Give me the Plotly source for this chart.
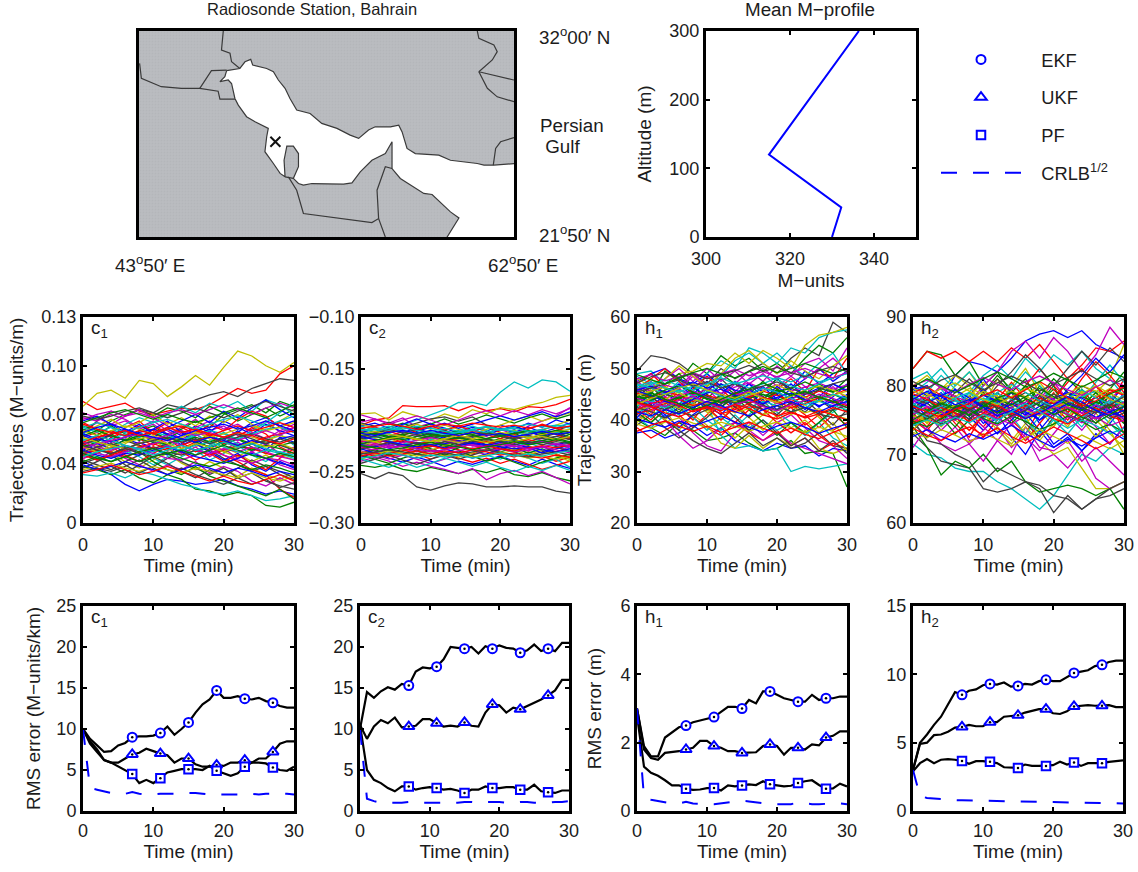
import plotly.graph_objects as go

W, H = 1138, 872
FONT = "Liberation Sans"
INK = "#1c1c1c"

# ---------- map (degrees lon / lat) ----------
MAP_LON_RANGE = [43.83, 62.83]
MAP_LAT_RANGE = [21.83, 32.0]
GULF_LON = [48.27,48.94,49.20,49.49,49.59,50.30,50.64,50.89,51.23,51.48,51.82,52.50,53.09,53.86,54.53,54.96,55.46,55.80,56.57,56.99,57.16,57.41,57.83,59.02,59.61,60.97,61.31,61.81,62.90,62.90,59.36,59.87,60.04,59.61,59.19,58.68,58.26,57.58,57.07,56.65,56.65,56.65,56.31,55.63,55.04,54.62,54.19,53.35,52.59,52.16,51.91,51.65,51.91,51.91,51.65,51.32,51.18,51.23,50.98,50.64,50.21,50.30,50.38,49.71,49.28,48.86,48.69,48.52,48.35,47.93,48.18,48.27]
GULF_LAT = [30.04,30.15,30.48,30.60,30.32,30.15,29.99,29.58,29.17,28.67,28.10,27.93,27.44,27.19,26.86,26.70,27.11,27.27,27.27,27.35,27.02,26.20,25.95,25.87,25.62,25.46,25.38,25.38,25.46,21.70,21.70,22.49,22.77,23.07,23.48,23.93,23.98,24.39,24.72,25.21,25.79,26.53,25.95,25.62,25.05,24.50,24.44,24.47,24.47,24.39,24.47,24.72,25.30,25.95,26.32,26.32,25.62,24.80,24.97,25.46,26.04,26.78,27.19,27.52,27.77,28.34,28.67,29.41,29.58,29.50,29.74,30.04]
BORDERS = [
    ([48.10,48.01,48.44,48.52,48.94], [32.0,31.06,30.90,30.48,30.15]),
    ([43.86,43.95,44.96,45.98,46.91,47.84,47.93,48.69], [30.40,29.66,29.25,29.17,29.17,29.03,28.64,28.64]),
    ([46.91,47.17,47.50,48.27], [29.17,29.58,30.04,30.07]),
    ([60.97,61.05,61.81,61.98,61.73,61.05,62.83], [32.0,31.64,31.31,30.98,30.57,29.99,29.58]),
    ([61.05,61.48,61.98,62.83], [29.99,29.17,28.75,28.51]),
    ([62.83,62.15,61.90,61.78], [26.74,26.53,26.20,25.38]),
    ([51.40,51.82,52.16,54.19,55.63,55.97,56.31], [24.80,24.14,22.99,22.74,22.54,22.74,21.83]),
    ([55.97,55.89,56.31,56.65], [22.74,24.14,25.30,25.21]),
    ([51.23,51.65], [24.80,24.72]),
]
STATION_LON = [50.74]
STATION_LAT = [26.53]

# ---------- mean M-profile ----------
PROFILE_M = [330.0, 332.2, 315.0, 336.4]
PROFILE_ALT = [0, 43, 120, 300]

# ---------- trajectories, one point every 2 min ----------
T_TRAJ = [0,2,4,6,8,10,12,14,16,18,20,22,24,26,28,30]
LINE_COLORS = ["#0000ff","#008000","#ff0000","#00bfbf","#bf00bf","#bfbf00","#404040"]

C1_MILLI = [
[41,37,33,27,23,27,30,29,27,28,30,26,24,21,23,21],
[38,36,33,36,31,28,33,30,24,23,20,22,20,14,13,16],
[78,73,75,77,72,70,72,74,73,76,81,86,83,85,95,100],
[33,32,34,31,35,33,30,27,25,22,21,23,20,17,18,20],
[60,65,63,66,61,64,58,62,67,60,63,57,61,66,59,62],
[75,83,85,80,91,89,81,87,94,88,99,109,106,100,96,102],
[58,66,72,69,73,71,76,74,79,82,84,81,86,89,92,91],
[52,48,56,50,46,53,58,51,55,49,54,60,52,48,56,53],
[63,60,66,70,73,69,74,72,68,75,71,66,70,74,69,73],
[56,59,53,62,66,58,55,49,53,58,52,56,62,58,50,46],
[47,44,41,46,50,43,39,44,48,42,46,51,45,41,47,44],
[68,66,70,67,62,66,60,55,58,52,48,53,47,43,39,36],
[44,49,46,41,37,42,46,40,36,41,37,32,37,33,30,35],
[37,41,45,39,34,38,43,47,52,48,43,39,35,38,33,30],
[54,57,51,47,53,49,45,52,57,61,55,59,65,68,63,66],
[49,53,58,54,60,63,57,61,66,62,70,73,76,71,78,75],
[65,61,56,60,55,51,56,53,47,50,45,41,36,33,24,19],
[58,62,59,64,68,65,70,75,71,77,74,78,72,79,76,70],
[46,42,47,43,39,35,39,36,41,34,38,35,29,26,31,27],
[55,51,47,52,57,54,49,45,50,54,47,44,49,53,45,42],
[42,39,36,41,45,50,46,41,37,33,37,31,27,30,25,28],
[48,52,49,55,52,56,61,57,63,59,66,62,58,64,60,57],
[61,57,63,58,54,59,55,60,54,57,51,55,50,46,52,48],
[51,55,60,57,63,60,65,62,58,64,60,67,72,69,62,59],
[44,47,43,48,44,39,44,49,45,51,56,52,48,54,58,51],
[71,68,64,69,73,68,63,58,62,66,61,64,59,55,60,64],
[50,46,52,56,50,47,52,56,60,55,50,46,41,45,40,38],
[40,43,38,34,39,44,40,35,31,36,32,37,42,38,35,31],
[57,54,58,61,56,61,66,59,52,47,42,46,39,35,41,37],
[53,50,45,50,47,41,36,33,38,32,29,26,23,20,24,18],
[43,46,50,45,41,46,51,47,42,46,41,45,40,36,43,49],
[62,59,62,56,59,55,50,54,58,53,59,54,60,65,71,78],
[45,50,54,48,53,47,51,46,50,44,49,43,47,52,46,50],
[59,63,67,62,65,70,64,68,63,69,65,70,64,60,66,71],
[35,37,35,38,42,37,33,37,33,30,27,31,34,29,26,24],
[66,69,64,59,64,58,62,66,70,65,72,68,74,79,73,68],
[50,53,51,54,55,53,52,54,56,53,56,55,52,54,51,53],
[46,48,47,44,47,50,48,51,48,45,48,51,49,46,44,47],
[55,52,55,58,56,59,57,54,57,60,58,55,58,61,62,59],
[43,46,44,47,49,46,43,42,45,48,45,42,40,43,42,39],
[60,57,60,63,61,58,61,64,61,58,56,59,56,54,57,55],
[52,54,57,54,51,49,52,55,53,50,53,56,58,55,53,56],
[48,45,43,46,45,48,50,47,44,42,40,43,46,43,40,38],
[57,60,57,54,57,55,52,55,53,50,53,51,48,51,49,46],
[45,42,45,48,50,52,49,51,54,56,53,50,53,56,58,60],
[62,65,62,59,62,65,67,64,61,64,67,69,66,63,66,69],
[53,50,48,51,49,52,54,51,48,46,49,47,50,47,44,42],
[50,47,50,53,55,57,54,56,59,56,58,61,63,60,62,65],
[47,50,52,49,46,44,47,45,48,50,47,49,52,54,51,48],
[58,55,53,56,59,61,58,55,53,56,54,51,54,52,55,57],
[41,44,41,44,41,44,46,43,40,38,41,39,36,39,37,34],
[64,61,59,57,60,58,61,63,60,57,60,63,60,62,65,62],
[54,57,54,51,49,47,50,48,51,53,50,47,45,48,46,43],
[49,52,54,56,58,55,57,60,57,59,56,54,57,60,57,62],
[56,53,51,49,52,55,52,49,52,50,47,50,53,50,52,49],
[51,48,46,49,52,54,56,53,55,52,55,58,55,52,55,52],
[59,62,64,61,58,56,54,57,60,62,64,61,63,66,63,60],
[46,43,41,44,47,49,46,48,45,48,51,48,45,43,46,44],
[53,56,58,60,57,59,62,59,61,58,56,59,57,54,52,55],
[44,47,49,51,48,45,48,51,48,50,53,50,52,49,47,45],
[67,70,72,69,71,68,71,73,70,73,76,73,70,74,77,74],
[36,38,40,37,35,38,36,34,37,35,33,31,34,31,29,32],
[69,67,69,72,74,71,68,71,74,71,68,72,75,78,75,72],
[39,36,38,41,38,36,33,36,39,37,34,37,35,32,35,33],
[65,68,71,73,70,67,70,67,65,68,71,74,71,68,72,76],
[34,36,39,36,33,35,38,35,32,29,32,29,27,30,33,29],
]
C2_MILLI = [
[-224,-220,-226,-221,-216,-212,-217,-212,-207,-211,-205,-209,-203,-207,-200,-204],
[-244,-246,-243,-248,-250,-246,-249,-252,-248,-251,-247,-253,-255,-251,-256,-259],
[-205,-200,-198,-186,-187,-187,-186,-191,-186,-191,-189,-192,-187,-188,-185,-180],
[-212,-209,-213,-205,-200,-195,-190,-183,-183,-186,-173,-163,-169,-161,-163,-172],
[-195,-199,-203,-198,-207,-203,-210,-205,-212,-216,-209,-214,-206,-201,-196,-188],
[-194,-193,-200,-192,-196,-200,-194,-198,-190,-194,-188,-190,-186,-183,-178,-176],
[-252,-257,-251,-254,-265,-268,-264,-261,-262,-265,-265,-264,-265,-265,-269,-271],
[-236,-232,-237,-241,-236,-240,-245,-240,-243,-239,-235,-240,-244,-238,-243,-247],
[-208,-212,-207,-203,-208,-204,-199,-204,-200,-195,-199,-203,-198,-194,-199,-195],
[-218,-222,-217,-222,-226,-230,-225,-229,-233,-228,-232,-236,-231,-235,-240,-236],
[-229,-225,-230,-234,-229,-233,-228,-224,-229,-234,-238,-233,-237,-242,-238,-246],
[-240,-236,-240,-245,-241,-245,-248,-252,-247,-258,-252,-249,-254,-250,-256,-262],
[-214,-218,-222,-217,-213,-218,-223,-218,-214,-219,-214,-210,-215,-210,-205,-200],
[-203,-206,-202,-207,-203,-199,-197,-201,-197,-205,-210,-206,-211,-215,-210,-206],
[-210,-214,-209,-204,-199,-204,-208,-213,-209,-214,-210,-206,-211,-216,-212,-217],
[-226,-230,-234,-230,-225,-221,-226,-222,-218,-222,-218,-213,-218,-214,-219,-214],
[-232,-228,-224,-229,-233,-238,-233,-237,-241,-237,-242,-238,-243,-248,-244,-240],
[-220,-216,-220,-224,-219,-215,-211,-215,-220,-225,-221,-226,-222,-227,-223,-228],
[-216,-212,-216,-211,-215,-220,-224,-220,-225,-220,-224,-219,-215,-220,-225,-230],
[-238,-234,-229,-234,-230,-235,-231,-236,-232,-228,-233,-229,-225,-230,-235,-240],
[-222,-226,-221,-226,-230,-226,-221,-217,-222,-218,-214,-219,-224,-220,-216,-212],
[-206,-203,-208,-212,-208,-213,-218,-222,-217,-213,-208,-212,-207,-212,-208,-203],
[-234,-238,-242,-237,-233,-229,-234,-230,-235,-240,-236,-241,-246,-241,-237,-233],
[-227,-223,-219,-215,-220,-216,-212,-216,-211,-207,-212,-217,-213,-209,-214,-219],
[-213,-217,-213,-218,-223,-219,-215,-210,-206,-210,-215,-211,-216,-221,-226,-222],
[-230,-234,-238,-234,-238,-242,-238,-233,-229,-234,-229,-225,-230,-226,-231,-226],
[-204,-208,-212,-208,-204,-209,-205,-209,-214,-209,-205,-200,-196,-201,-197,-193],
[-242,-238,-234,-239,-243,-238,-234,-238,-234,-230,-226,-231,-235,-231,-226,-231],
[-219,-215,-211,-207,-211,-207,-203,-208,-204,-200,-196,-200,-196,-192,-197,-192],
[-233,-229,-233,-228,-224,-228,-232,-227,-223,-227,-231,-227,-232,-228,-233,-238],
[-211,-207,-211,-215,-210,-206,-210,-206,-210,-214,-218,-214,-209,-204,-208,-212],
[-238,-242,-246,-241,-246,-242,-237,-241,-245,-241,-246,-250,-245,-249,-244,-249],
[-202,-199,-204,-200,-196,-200,-205,-200,-195,-191,-196,-191,-195,-190,-194,-189],
[-225,-221,-225,-229,-225,-229,-225,-220,-216,-220,-225,-229,-234,-229,-233,-238],
[-217,-213,-209,-213,-209,-214,-210,-215,-219,-224,-220,-216,-221,-217,-213,-218],
[-228,-232,-228,-224,-228,-224,-228,-232,-237,-233,-228,-223,-227,-232,-228,-224],
[-215,-213,-216,-214,-212,-215,-213,-211,-214,-212,-215,-213,-210,-213,-211,-214],
[-221,-219,-222,-220,-223,-221,-218,-220,-223,-221,-224,-222,-219,-222,-220,-217],
[-209,-211,-208,-210,-213,-211,-208,-211,-209,-206,-209,-207,-204,-207,-205,-208],
[-227,-229,-226,-228,-231,-229,-232,-230,-227,-230,-228,-231,-229,-226,-229,-232],
[-231,-233,-230,-232,-235,-232,-235,-233,-236,-234,-231,-234,-237,-235,-238,-235],
[-218,-216,-219,-217,-214,-217,-215,-218,-216,-213,-216,-218,-215,-218,-216,-219],
[-224,-226,-223,-225,-222,-225,-223,-220,-223,-225,-222,-220,-223,-221,-224,-221],
[-212,-214,-217,-215,-218,-216,-219,-217,-220,-218,-221,-219,-222,-220,-218,-221],
[-235,-232,-235,-233,-230,-233,-230,-232,-229,-231,-234,-232,-235,-237,-234,-236],
[-206,-209,-206,-209,-206,-208,-211,-213,-210,-212,-209,-211,-213,-210,-212,-209],
[-220,-223,-225,-222,-220,-217,-220,-222,-225,-227,-224,-226,-224,-221,-224,-226],
[-214,-211,-214,-216,-219,-221,-218,-215,-218,-215,-212,-215,-217,-214,-211,-209],
[-228,-225,-222,-225,-222,-224,-221,-224,-221,-219,-221,-224,-221,-224,-221,-223],
[-216,-219,-221,-224,-226,-224,-227,-225,-222,-224,-226,-228,-226,-229,-231,-228],
[-223,-220,-217,-219,-216,-214,-216,-213,-215,-218,-216,-213,-211,-213,-210,-212],
[-232,-235,-232,-230,-227,-225,-228,-225,-228,-225,-228,-230,-227,-225,-227,-224],
[-210,-208,-210,-207,-210,-212,-214,-212,-209,-207,-210,-208,-211,-209,-206,-204],
[-226,-224,-227,-225,-228,-231,-229,-226,-224,-226,-223,-225,-228,-226,-223,-225],
[-219,-221,-218,-216,-218,-221,-219,-222,-219,-222,-219,-221,-218,-216,-219,-216],
[-233,-231,-229,-231,-233,-235,-232,-234,-231,-229,-232,-234,-236,-233,-231,-234],
[-213,-215,-212,-210,-213,-210,-213,-215,-212,-215,-213,-216,-214,-211,-214,-212],
[-225,-227,-229,-227,-224,-222,-224,-226,-229,-226,-224,-221,-224,-222,-219,-222],
[-208,-206,-204,-206,-209,-206,-204,-206,-203,-205,-207,-205,-208,-205,-208,-206],
[-237,-235,-232,-234,-237,-234,-236,-234,-237,-235,-232,-235,-233,-235,-232,-230],
]
H1_TENTHS = [
[375,380,365,375,390,370,385,360,350,340,355,345,350,330,345,340],
[400,385,370,395,380,360,365,375,355,340,345,360,335,340,335,270],
[385,365,380,395,405,385,370,395,375,360,380,350,365,340,355,345],
[490,495,470,480,450,430,370,345,350,340,345,300,310,305,310,315],
[400,420,400,370,345,360,385,395,380,360,375,355,345,335,325,315],
[410,395,420,380,410,390,355,345,370,345,365,350,380,345,335,345],
[495,525,520,510,490,470,500,480,495,510,490,520,540,525,590,570],
[475,490,500,480,470,490,465,445,470,455,480,460,495,470,490,500],
[470,450,495,475,510,490,525,505,520,495,510,490,520,545,530,560],
[430,410,445,425,400,435,415,395,420,440,405,425,390,410,380,395],
[485,470,450,475,455,490,515,500,540,530,510,540,530,560,570,575],
[420,445,425,405,375,350,340,375,395,370,395,410,385,360,350,325],
[450,480,460,490,495,510,505,530,510,535,520,500,545,565,570,580],
[440,420,400,380,360,345,335,355,375,350,365,345,355,375,350,345],
[410,435,455,430,465,445,425,450,470,445,420,445,465,440,425,450],
[460,440,470,490,465,440,470,450,430,455,480,455,435,460,440,415],
[420,400,430,410,385,410,440,420,450,430,460,480,455,500,480,520],
[415,440,420,445,425,400,380,410,385,400,380,395,370,395,365,350],
[455,475,445,465,490,465,445,470,495,475,505,485,510,520,495,540],
[395,420,400,425,445,420,400,430,405,380,410,385,400,375,395,360],
[465,445,425,450,430,455,480,455,430,410,435,415,440,415,390,420],
[445,425,450,470,445,420,445,425,445,465,440,460,480,500,475,495],
[425,455,435,415,440,465,490,470,450,475,450,430,450,470,455,480],
[470,490,465,440,460,485,460,435,405,430,455,430,410,385,410,390],
[405,385,410,430,405,380,405,385,410,435,415,395,370,395,415,435],
[435,415,440,460,485,460,435,455,480,500,480,505,480,500,520,495],
[480,465,440,455,435,415,390,365,390,410,435,410,430,405,380,340],
[390,410,385,365,385,405,430,405,380,400,375,350,365,340,360,335],
[450,430,405,425,450,475,450,475,455,430,450,470,445,425,445,470],
[415,395,420,445,420,450,425,445,420,395,370,395,375,395,420,385],
[460,480,500,475,450,425,400,425,445,420,395,375,395,370,350,365],
[425,405,430,410,435,460,485,515,530,510,530,505,485,510,530,490],
[475,455,480,500,475,500,475,495,470,490,465,485,465,440,465,440],
[435,460,480,505,485,465,490,520,535,510,490,515,495,480,505,525],
[445,465,440,420,445,425,450,425,405,430,410,435,415,440,420,445],
[405,430,410,385,410,430,410,440,460,440,465,445,420,445,470,455],
[440,448,436,444,452,440,446,434,442,450,438,446,454,442,450,438],
[452,444,456,448,436,448,440,452,444,456,448,436,444,456,448,460],
[428,436,424,432,444,432,420,432,424,436,428,416,424,436,428,420],
[464,456,468,460,448,460,452,464,472,460,468,456,464,472,460,468],
[418,426,434,422,430,418,426,414,422,410,418,426,414,422,410,402],
[436,428,420,432,424,436,444,432,440,428,420,432,424,412,420,428],
[458,466,454,462,474,462,470,458,450,462,454,442,450,462,470,458],
[446,438,450,442,454,446,434,442,454,446,458,450,438,446,434,442],
[412,420,432,440,428,436,424,416,428,420,408,416,404,412,424,416],
[470,462,450,458,446,454,466,474,462,470,482,474,486,474,482,490],
[432,424,436,448,456,444,436,448,456,444,432,440,452,444,432,424],
[448,456,464,452,440,432,444,436,448,456,468,456,444,436,448,456],
[424,416,404,416,408,420,432,440,432,420,428,416,424,412,404,412],
[456,448,436,428,440,452,460,448,440,432,444,452,440,428,436,448],
[438,446,458,466,454,442,434,446,434,442,454,462,474,462,454,466],
[420,432,440,428,416,424,412,420,432,444,436,424,432,444,436,428],
[466,474,462,454,466,458,446,438,450,462,454,442,430,438,450,442],
[442,434,426,438,446,434,422,430,438,426,418,430,438,450,442,430],
[430,442,450,462,470,458,450,442,454,442,434,446,458,466,458,446],
[454,462,470,478,466,474,462,470,458,466,474,462,450,458,470,478],
[416,408,420,412,424,436,428,416,408,420,428,436,424,416,428,436],
[444,452,440,432,420,428,440,452,460,472,460,448,456,444,436,424],
[434,426,414,406,418,426,418,430,422,410,402,414,406,418,410,400],
[462,470,478,466,458,470,482,470,478,486,478,466,458,470,482,490],
[480,488,476,484,492,482,490,498,486,494,484,492,500,490,482,492],
[392,384,396,404,394,386,396,388,378,388,396,384,376,386,378,368],
[472,484,492,482,490,480,488,496,506,494,502,492,484,496,504,494],
[402,394,386,398,388,398,408,396,386,376,388,396,386,374,384,392],
[488,478,470,482,492,500,490,482,494,504,492,500,510,500,490,500],
[378,390,398,388,378,388,376,386,396,384,374,384,372,364,376,386],
]
H2_TENTHS = [
[785,790,780,815,835,830,820,840,865,875,880,870,880,860,850,840],
[825,850,845,815,835,800,820,790,810,775,800,760,795,770,790,770],
[825,850,840,850,835,850,835,855,840,860,835,810,830,855,850,865],
[715,700,695,680,675,675,660,650,635,620,640,670,700,690,710,700],
[775,800,780,760,720,725,740,710,730,690,700,680,705,665,650,660],
[800,815,795,815,800,770,810,780,755,720,700,710,680,650,650,660],
[730,710,690,685,680,650,645,650,660,655,640,635,620,635,640,650],
[790,800,775,750,770,745,760,725,700,735,710,725,705,730,715,740],
[740,710,670,690,680,700,675,690,660,645,650,655,650,640,650,620],
[760,740,770,745,725,760,785,750,730,765,790,760,785,800,770,810],
[810,820,795,770,790,815,830,810,840,820,845,830,850,825,810,785],
[710,740,715,705,715,690,720,700,740,710,705,720,690,710,690,670],
[770,745,775,800,820,790,770,800,825,790,760,740,770,790,810,860],
[750,720,715,700,690,660,680,670,660,650,615,640,620,635,650,660],
[795,775,790,765,785,810,780,755,775,745,715,730,705,725,745,770],
[755,780,760,785,765,790,815,795,770,800,780,810,790,765,785,760],
[745,765,750,770,745,725,750,775,800,825,800,780,810,835,815,790],
[770,790,815,795,770,750,775,755,730,755,780,760,740,765,745,725],
[780,760,735,755,775,800,820,850,865,840,870,850,820,845,885,860],
[765,745,770,750,735,760,740,720,745,765,740,770,790,760,735,700],
[735,755,780,760,785,770,790,770,745,725,755,780,800,790,770,745],
[800,785,760,780,755,735,755,780,760,735,760,790,770,750,775,800],
[760,775,755,730,750,775,755,780,800,775,795,770,750,770,795,820],
[750,735,760,785,760,740,765,745,720,745,770,750,775,800,780,755],
[790,805,825,800,820,795,775,795,820,800,775,755,780,805,830,805],
[755,735,720,740,715,735,760,780,755,780,805,780,760,740,715,740],
[780,800,780,755,780,760,735,715,740,720,745,770,750,725,750,775],
[745,725,745,770,750,775,800,820,845,825,800,825,850,830,855,835],
[775,755,775,795,775,750,730,750,770,790,765,745,765,785,760,790],
[765,785,760,740,765,790,765,745,765,785,810,790,770,790,765,745],
[745,755,775,755,735,755,780,805,780,760,780,805,825,800,780,730],
[785,765,745,765,790,770,745,770,750,730,750,730,755,775,755,730],
[760,780,800,780,760,740,720,745,725,705,730,755,735,760,780,800],
[735,760,740,760,785,805,785,760,780,805,780,755,775,750,730,710],
[770,750,770,790,810,790,810,790,765,785,765,790,765,745,770,750],
[795,800,770,750,775,795,770,790,770,750,770,795,815,840,820,845],
[772,764,776,768,780,772,760,768,780,772,764,772,784,776,768,776],
[760,768,756,764,772,764,752,760,772,764,776,768,756,764,772,764],
[784,776,788,780,768,776,788,780,768,776,764,772,784,792,784,776],
[752,760,748,756,768,760,752,744,756,764,756,768,760,752,760,752],
[796,788,776,784,796,788,780,792,784,776,788,780,792,784,796,788],
[768,780,772,760,752,764,776,784,772,764,776,784,772,764,752,760],
[778,770,758,766,778,786,778,766,758,770,782,790,782,770,762,754],
[744,752,764,772,764,752,744,756,748,736,744,756,748,736,744,732],
[790,798,786,778,766,778,770,758,770,782,774,762,774,782,794,786],
[762,754,766,778,770,782,774,762,754,766,758,746,754,766,778,770],
[776,784,796,784,776,764,756,768,776,788,780,768,760,772,764,776],
[756,748,760,772,780,792,784,772,764,756,768,776,788,800,788,780],
[782,774,762,754,766,754,766,778,790,778,766,758,750,762,774,762],
[766,774,786,794,782,770,762,774,762,750,762,774,766,754,762,770],
[748,740,752,764,756,768,780,772,784,796,784,772,764,776,788,796],
[788,780,768,760,748,760,772,760,752,764,752,744,756,768,756,748],
[774,762,770,782,790,778,790,802,790,778,770,782,794,782,774,786],
[758,770,762,750,762,750,742,754,766,758,770,758,746,754,742,750],
[792,784,796,804,792,780,772,784,796,788,776,788,800,792,780,772],
[764,756,744,752,764,776,768,756,764,776,788,776,768,760,772,784],
[780,792,784,772,780,768,756,764,752,760,772,784,776,764,756,764],
[750,762,774,766,758,770,782,790,782,770,758,766,754,746,758,770],
[770,762,754,766,774,786,794,782,794,806,794,782,770,778,790,798],
[742,750,742,754,746,758,750,762,774,762,750,738,750,742,730,738],
[800,808,798,790,802,812,802,794,806,814,804,794,786,798,808,800],
[732,724,736,728,718,730,722,712,724,736,726,716,728,718,708,720],
[806,796,808,816,804,794,804,814,804,792,802,812,822,810,800,810],
[726,736,726,718,730,722,732,742,730,720,710,722,712,724,734,722],
[798,810,800,790,800,810,820,810,798,806,818,808,798,808,820,812],
[738,728,720,732,740,728,738,726,716,728,740,730,720,708,718,730],
]

# ---------- RMS error, one point per minute ----------
T_RMS = list(range(31))
T_MARK = [7, 11, 15, 19, 23, 27]

RMS_C1_EKF = [10,8.8,8,7.2,7.3,8,8.3,9,9.1,9.1,9.2,9.5,10.3,9.3,10,10.8,12,13,13.6,14.7,13.8,13.8,14,13.7,13.6,13.8,13.4,13.2,12.8,12.6,12.6]
RMS_C1_UKF = [10,8.5,7.5,6.2,5.9,5.9,6.4,6.9,7.1,7.6,7.3,7,6.8,5.9,6.4,6.4,5.7,5.4,5.4,5.6,5.5,5.9,5.9,6.2,5.9,6.4,6.4,7.2,8.2,8.5,8.5]
RMS_C1_PF = [10,8.2,7.2,6.2,5.9,5.4,5,4.5,3.4,3.8,3.4,4,4.7,4.9,5.1,5.1,5.1,5,5.5,4.9,4.6,4.3,4.6,5.4,5.9,5.9,5.8,5.3,5,4.9,5.4]
RMS_C1_CRLB = [10,2.8,2.6,2.4,2.2,2.1,2.1,2.3,2.1,2,2,2.1,2.1,2.1,2.1,2.2,2.2,2.1,2,2,2,2,2,2.1,2.1,2,2.1,2.1,2.1,2.1,2]

RMS_C2_EKF = [10,14.5,13.8,14.6,15.1,14.8,15.5,15.3,17,17.5,17.4,17.6,18.5,20,19.9,19.8,20,19.2,20.1,19.8,20.2,19.9,19.8,19.3,19.6,20.3,19.5,19.8,19.5,20.5,20.5]
RMS_C2_UKF = [10.5,8.8,10.3,11.1,10.7,11.4,10.2,10.3,10.4,11.2,11.2,10.7,10.3,10.4,10.3,10.8,10.4,10.3,12,13,12.9,12,12.6,12.4,12.8,13.1,13.6,14.1,14.7,16,16]
RMS_C2_PF = [10.5,5,3.8,3.4,2.8,2.4,3,3,2.6,2.8,2.9,2.8,2.6,2.7,2.5,2.2,2.6,2.6,3,2.8,2.8,2.9,2.9,2.6,2.6,3.2,2.4,2.3,2.2,2.5,2.5]
RMS_C2_CRLB = [10,1.5,1.2,1,1,1,1,1.1,1.1,1,1,1,1,1,1,1.1,1.1,1,1.1,1.1,1.1,1,1,1.1,1.1,1,1,1,1.1,1.1,1.2]

RMS_H1_EKF = [3,1.9,1.6,1.6,2.15,2.3,2.45,2.5,2.6,2.65,2.7,2.75,2.9,3.05,3.05,3,3.25,3.15,3.5,3.5,3.4,3.3,3.25,3.2,3.2,3.4,3.25,3.3,3.3,3.35,3.35]
RMS_H1_UKF = [3,1.8,1.55,1.5,1.7,1.72,1.75,1.8,1.85,2.05,2.05,1.9,1.85,1.75,1.75,1.7,1.7,1.72,1.9,1.95,1.9,1.65,1.85,1.85,1.8,1.95,1.92,2.15,2.2,2.33,2.33]
RMS_H1_PF = [2.8,1.3,1.12,1.03,0.9,0.75,0.75,0.65,0.62,0.63,0.67,0.67,0.6,0.75,0.72,0.75,0.78,0.76,0.87,0.78,0.75,0.72,0.74,0.82,0.87,0.9,0.76,0.65,0.66,0.8,0.72]
RMS_H1_CRLB = [3,0.4,0.33,0.3,0.25,0.22,0.22,0.27,0.22,0.2,0.2,0.2,0.22,0.25,0.28,0.3,0.28,0.25,0.22,0.2,0.2,0.2,0.2,0.25,0.22,0.2,0.2,0.22,0.22,0.22,0.2]

RMS_H2_EKF = [3,5,5.6,6.3,6.9,7.8,8.7,8.5,8.8,8.9,9.2,9.3,9.25,9.4,9.1,9.15,9.3,9.25,9.5,9.6,9.5,9.5,9.8,10.1,10.2,10.3,10.6,10.7,10.9,11,11]
RMS_H2_UKF = [3,4.9,5,5.55,5.6,5.8,6.1,6.15,6.3,6.2,6.2,6.5,6.5,6.9,6.95,7,7.2,7.35,7.45,7.45,7.15,7.1,7.3,7.65,7.7,7.75,7.7,7.7,7.75,7.6,7.6]
RMS_H2_PF = [2.9,3.5,3.8,3.5,3.75,3.8,3.75,3.65,3.45,3.65,3.65,3.6,3.5,3.2,3.15,3.15,3.4,3.3,3.3,3.3,3.35,3.6,3.4,3.55,3.3,3.5,3.5,3.5,3.6,3.65,3.7]
RMS_H2_CRLB = [3,1.1,0.95,0.9,0.87,0.85,0.8,0.78,0.77,0.75,0.72,0.72,0.7,0.7,0.68,0.68,0.66,0.65,0.63,0.62,0.6,0.6,0.6,0.58,0.58,0.57,0.57,0.55,0.55,0.55,0.55]

PANEL_NAMES = ["c<sub>1</sub>", "c<sub>2</sub>", "h<sub>1</sub>", "h<sub>2</sub>"]

# ---------- layout boxes in pixels: left, top, right, bottom ----------
BOX_MAP = (139, 31, 514, 237)
BOX_PROFILE = (706, 31, 916, 237)
BOXES_TRAJ = [(83,317,294,523),(361,317,570,523),(637,317,847,523),(913,317,1124,523)]
BOXES_RMS = [(83,606,294,811),(360,606,569,811),(637,606,847,811),(913,606,1123,811)]


def dom(box):
    l, t, r, b = box
    return [l / W, r / W], [1 - b / H, 1 - t / H]


def axis(domain, anchor, **kw):
    d = dict(domain=domain, anchor=anchor, automargin=False, showgrid=False, zeroline=False, showline=True,
             linecolor="black", linewidth=3, mirror="ticks", ticks="inside", ticklen=4,
             tickwidth=2, tickcolor="black", tickfont=dict(family=FONT, size=18, color=INK),
             title_font=dict(family=FONT, size=19, color=INK))
    d.update(kw)
    return d


fig = go.Figure()
layout = {}
annotations = []


def add_axes(n, box, xkw, ykw):
    dx, dy = dom(box)
    xname = "xaxis" if n == 1 else f"xaxis{n}"
    yname = "yaxis" if n == 1 else f"yaxis{n}"
    xid = "x" if n == 1 else f"x{n}"
    yid = "y" if n == 1 else f"y{n}"
    layout[xname] = axis(dx, yid, **xkw)
    layout[yname] = axis(dy, xid, **ykw)
    return xid, yid


def note(text, x, y, anchor="left", size=18.8):
    annotations.append(dict(text=text, x=x / W, y=1 - y / H, xref="paper", yref="paper", showarrow=False,
                            xanchor=anchor, yanchor="middle",
                            font=dict(family=FONT, size=size, color=INK)))


# map
xid, yid = add_axes(1, BOX_MAP,
    dict(range=MAP_LON_RANGE, showticklabels=False, ticks=""),
    dict(range=MAP_LAT_RANGE, showticklabels=False, ticks=""))
fig.add_trace(go.Scatter(
    x=[MAP_LON_RANGE[0], MAP_LON_RANGE[1], MAP_LON_RANGE[1], MAP_LON_RANGE[0], MAP_LON_RANGE[0]],
    y=[MAP_LAT_RANGE[0], MAP_LAT_RANGE[0], MAP_LAT_RANGE[1], MAP_LAT_RANGE[1], MAP_LAT_RANGE[0]],
    mode="none", fill="toself", fillcolor="#b7b9bd",
    fillpattern=dict(shape=".", bgcolor="#babcc0", fgcolor="#adafb4", size=3, solidity=0.3),
    showlegend=False, xaxis=xid, yaxis=yid, hoverinfo="skip"))
fig.add_trace(go.Scatter(x=GULF_LON, y=GULF_LAT, mode="lines", fill="toself", fillcolor="white",
                         line=dict(color="#3a3a3a", width=1.2), showlegend=False, xaxis=xid, yaxis=yid))
for lon, lat in BORDERS:
    fig.add_trace(go.Scatter(x=lon, y=lat, mode="lines", line=dict(color="#3a3a3a", width=1.2),
                             showlegend=False, xaxis=xid, yaxis=yid))
fig.add_trace(go.Scatter(x=STATION_LON, y=STATION_LAT, mode="markers",
                         marker=dict(symbol="x-thin", size=10, line=dict(color="#111", width=2)),
                         showlegend=False, xaxis=xid, yaxis=yid))

note("Radiosonde Station, Bahrain", 312, 9, "center", 16.5)
note("32<sup>o</sup>00′ N", 537, 36)
note("21<sup>o</sup>50′ N", 537, 234)
note("43<sup>o</sup>50′ E", 113, 264)
note("62<sup>o</sup>50′ E", 486, 264)
note("Persian", 538, 125)
note(" Gulf", 538, 146)

# profile
xid, yid = add_axes(2, BOX_PROFILE,
    dict(range=[300, 350], tickvals=[300, 320, 340], ticklabelstandoff=3, title=dict(text="M−units", standoff=7)),
    dict(range=[0, 300], tickvals=[0, 100, 200, 300], title=dict(text="Altitude (m)", standoff=13)))
fig.add_trace(go.Scatter(x=PROFILE_M, y=PROFILE_ALT, mode="lines", line=dict(color="#0000ff", width=2),
                         showlegend=False, xaxis=xid, yaxis=yid))
note("Mean M−profile", 810, 10, "center")

# trajectories
TRAJ_SETS = [[[v / 1000 for v in row] for row in C1_MILLI],
             [[v / 1000 for v in row] for row in C2_MILLI],
             [[v / 10 for v in row] for row in H1_TENTHS],
             [[v / 10 for v in row] for row in H2_TENTHS]]
TRAJ_Y = [
    dict(range=[0.0032, 0.13], tickvals=[0.0032, 0.04, 0.07, 0.10, 0.13], ticktext=["0", "0.04", "0.07", "0.10", "0.13"],
         title=dict(text="Trajectories (M−units/m)", standoff=13)),
    dict(range=[-0.30, -0.10], tickvals=[-0.30, -0.25, -0.20, -0.15, -0.10],
         ticktext=["−0.30", "−0.25", "−0.20", "−0.15", "−0.10"]),
    dict(range=[20, 60], tickvals=[20, 30, 40, 50, 60], title=dict(text="Trajectories (m)", standoff=14)),
    dict(range=[60, 90], tickvals=[60, 70, 80, 90]),
]
for i, (box, rows, yk) in enumerate(zip(BOXES_TRAJ, TRAJ_SETS, TRAJ_Y)):
    xid, yid = add_axes(3 + i, box,
        dict(range=[0, 30], tickvals=[0, 10, 20, 30], ticklabelstandoff=3,
             title=dict(text="Time (min)", standoff=5)), yk)
    for j, row in enumerate(rows):
        fig.add_trace(go.Scatter(x=T_TRAJ, y=row, mode="lines",
                                 line=dict(color=LINE_COLORS[j % 7], width=1.3),
                                 showlegend=False, xaxis=xid, yaxis=yid, hoverinfo="skip"))
    note(PANEL_NAMES[i], box[0] + 6, box[1] + 12)

# RMS panels
RMS_SETS = [
    (RMS_C1_EKF, RMS_C1_UKF, RMS_C1_PF, RMS_C1_CRLB),
    (RMS_C2_EKF, RMS_C2_UKF, RMS_C2_PF, RMS_C2_CRLB),
    (RMS_H1_EKF, RMS_H1_UKF, RMS_H1_PF, RMS_H1_CRLB),
    (RMS_H2_EKF, RMS_H2_UKF, RMS_H2_PF, RMS_H2_CRLB),
]
RMS_Y = [
    dict(range=[0, 25], tickvals=[0, 5, 10, 15, 20, 25], title=dict(text="RMS error (M−units/km)", standoff=11)),
    dict(range=[0, 25], tickvals=[0, 5, 10, 15, 20, 25]),
    dict(range=[0, 6], tickvals=[0, 2, 4, 6], title=dict(text="RMS error (m)", standoff=14)),
    dict(range=[0, 15], tickvals=[0, 5, 10, 15]),
]
PAD = "\u00a0\u00a0\u00a0"
STYLES = [("EKF", "circle", 9), ("UKF", "triangle-up", 10), ("PF", "square", 8.5)]
for i, (box, series, yk) in enumerate(zip(BOXES_RMS, RMS_SETS, RMS_Y)):
    xid, yid = add_axes(7 + i, box,
        dict(range=[0, 30], tickvals=[0, 10, 20, 30], ticklabelstandoff=1,
             title=dict(text="Time (min)", standoff=6)), yk)
    for s in series[:3]:
        fig.add_trace(go.Scatter(x=T_RMS, y=s, mode="lines", line=dict(color="black", width=2.2),
                                 showlegend=False, xaxis=xid, yaxis=yid))
    for s, (name, sym, size) in zip(series[:3], STYLES):
        ym = [s[t] for t in T_MARK]
        fig.add_trace(go.Scatter(x=T_MARK, y=ym, mode="markers", name=PAD + name, legendgroup=name, showlegend=(i == 0),
                                 marker=dict(symbol=sym, size=size, color="white",
                                             line=dict(color="#0000ff", width=2)),
                                 xaxis=xid, yaxis=yid))
        fig.add_trace(go.Scatter(x=T_MARK, y=ym, mode="markers", showlegend=False,
                                 marker=dict(symbol="circle", size=2.5, color="black"),
                                 xaxis=xid, yaxis=yid, hoverinfo="skip"))
    fig.add_trace(go.Scatter(x=T_RMS, y=series[3], mode="lines", name=PAD + "CRLB<sup>1/2</sup>", legendgroup="CRLB",
                             showlegend=(i == 0), line=dict(color="#0000ff", width=2, dash="16px,16px"),
                             xaxis=xid, yaxis=yid))
    note(PANEL_NAMES[i], box[0] + 6, box[1] + 12)

fig.update_layout(
    width=W, height=H, autosize=False, margin=dict(l=0, r=0, t=0, b=0),
    paper_bgcolor="white", plot_bgcolor="white",
    font=dict(family=FONT, size=18, color=INK),
    annotations=annotations,
    legend=dict(x=936 / W, y=1 - 41 / H, xanchor="left", yanchor="top", itemwidth=80, tracegroupgap=11,
                bgcolor="rgba(0,0,0,0)", font=dict(family=FONT, size=18.3, color=INK)),
    **layout)

fig.write_html("out.html", config={"displayModeBar": False},
               post_script="document.body.style.margin='0';document.body.style.overflow='hidden';")
